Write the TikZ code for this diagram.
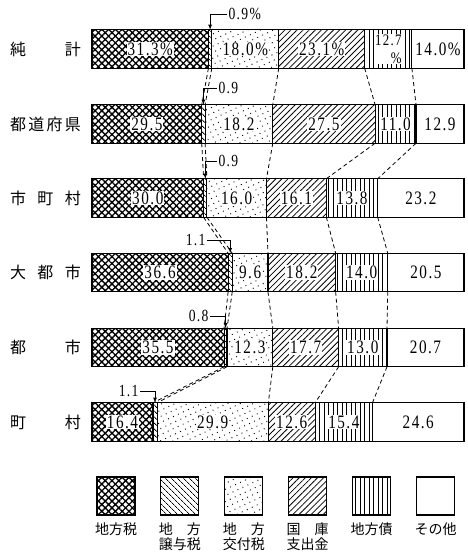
\documentclass[tikz,border=0pt]{standalone}
\usepackage{fontspec}
\newfontfamily\jfont{Noto Sans CJK JP}
\newfontfamily\numfont[FakeStretch=0.8,LetterSpace=8]{Liberation Serif}
\usetikzlibrary{positioning,patterns.meta}

\begin{document}
\begin{tikzpicture}[x=1pt,y=1pt]
            \useasboundingbox (0,0) rectangle (467,552);
            \tikzstyle{every node}+=[inner sep=0pt, outer sep=0pt]
            \tikzstyle{seg}=[draw, line width=1.1pt, minimum width=#1*3.72pt, minimum height=38.5pt]
            \tikzstyle{chiho}=[pattern={Hatch[angle=45,distance=4.8pt,line width=1.35pt]}]
            \tikzstyle{joyo}=[pattern={Lines[angle=-45,distance=4pt,line width=0.8pt]}]
            \tikzstyle{kofu}=[pattern={Dots[distance=5.5pt,radius=0.65pt,angle=25]}]
            \tikzstyle{kokko}=[pattern={Lines[angle=45,distance=4.3pt,line width=0.8pt]}]
            \tikzstyle{chihosai}=[pattern={Lines[angle=90,distance=4.5pt,line width=0.8pt]}]
            \tikzstyle{sonota}=[fill=white]
            \tikzstyle{val}=[fill=white, inner sep=1pt, font=\numfont\fontsize{19}{15}\selectfont]
            \tikzstyle{note}=[inner sep=1.5pt, font=\numfont\fontsize{17}{17}\selectfont]
            \tikzstyle{pin}=[line width=0.8pt, -latex]
            \tikzstyle{link}=[line width=0.8pt, dash pattern=on 4pt off 3pt]
            \tikzstyle{rowname}=[font=\jfont\fontsize{16}{16}\selectfont]
            \tikzstyle{key}=[draw, line width=1.1pt, minimum size=38pt]
            \tikzstyle{keytext}=[align=center, font=\jfont\fontsize{14}{15}\selectfont]
            % row names
            \node[rowname] (name1) at (45.5,503) {\makebox[71pt][s]{純\hfill 計}};
            \node[rowname] (name2) at (45.5,428) {\makebox[71pt][s]{都\hfill 道\hfill 府\hfill 県}};
            \node[rowname] (name3) at (45.5,354) {\makebox[71pt][s]{市\hfill 町\hfill 村}};
            \node[rowname] (name4) at (45.5,279.5) {\makebox[71pt][s]{大\hfill 都\hfill 市}};
            \node[rowname] (name5) at (45.5,204.5) {\makebox[71pt][s]{都\hfill 市}};
            \node[rowname] (name6) at (45.5,130) {\makebox[71pt][s]{町\hfill 村}};
            % bar 1
            \node[seg=31.3, chiho, anchor=west] (r1a) at (92,503) {};
            \node[seg=0.9, joyo, right=0pt of r1a] (r1b) {};
            \node[seg=18.0, kofu, right=0pt of r1b] (r1c) {};
            \node[seg=23.1, kokko, right=0pt of r1c] (r1d) {};
            \node[seg=12.7, chihosai, right=0pt of r1d] (r1e) {};
            \node[seg=14.0, sonota, right=0pt of r1e] (r1f) {};
            \node[val] (v1a) at (r1a) {31.3\%};
            \node[val] (v1c) at (r1c) {18.0\%};
            \node[val] (v1d) at (r1d) {23.1\%};
            \node[val, align=right, font=\numfont\fontsize{16}{18}\selectfont] (v1e) at (r1e) {12.7\\\%};
            \node[val] (v1f) at (r1f) {14.0\%};
            % bar 2
            \node[seg=29.5, chiho, anchor=west] (r2a) at (92,428) {};
            \node[seg=0.9, joyo, right=0pt of r2a] (r2b) {};
            \node[seg=18.2, kofu, right=0pt of r2b] (r2c) {};
            \node[seg=27.5, kokko, right=0pt of r2c] (r2d) {};
            \node[seg=11.0, chihosai, right=0pt of r2d] (r2e) {};
            \node[seg=12.9, sonota, right=0pt of r2e] (r2f) {};
            \node[val] (v2a) at (r2a) {29.5};
            \node[val] (v2c) at (r2c) {18.2};
            \node[val] (v2d) at (r2d) {27.5};
            \node[val] (v2e) at (r2e) {11.0};
            \node[val] (v2f) at (r2f) {12.9};
            % bar 3
            \node[seg=30.0, chiho, anchor=west] (r3a) at (92,354) {};
            \node[seg=0.9, joyo, right=0pt of r3a] (r3b) {};
            \node[seg=16.0, kofu, right=0pt of r3b] (r3c) {};
            \node[seg=16.1, kokko, right=0pt of r3c] (r3d) {};
            \node[seg=13.8, chihosai, right=0pt of r3d] (r3e) {};
            \node[seg=23.2, sonota, right=0pt of r3e] (r3f) {};
            \node[val] (v3a) at (r3a) {30.0};
            \node[val] (v3c) at (r3c) {16.0};
            \node[val] (v3d) at (r3d) {16.1};
            \node[val] (v3e) at (r3e) {13.8};
            \node[val] (v3f) at (r3f) {23.2};
            % bar 4
            \node[seg=36.6, chiho, anchor=west] (r4a) at (92,279.5) {};
            \node[seg=1.1, joyo, right=0pt of r4a] (r4b) {};
            \node[seg=9.6, kofu, right=0pt of r4b] (r4c) {};
            \node[seg=18.2, kokko, right=0pt of r4c] (r4d) {};
            \node[seg=14.0, chihosai, right=0pt of r4d] (r4e) {};
            \node[seg=20.5, sonota, right=0pt of r4e] (r4f) {};
            \node[val] (v4a) at (r4a) {36.6};
            \node[val] (v4c) at (r4c) {9.6};
            \node[val] (v4d) at (r4d) {18.2};
            \node[val] (v4e) at (r4e) {14.0};
            \node[val] (v4f) at (r4f) {20.5};
            % bar 5
            \node[seg=35.5, chiho, anchor=west] (r5a) at (92,204.5) {};
            \node[seg=0.8, joyo, right=0pt of r5a] (r5b) {};
            \node[seg=12.3, kofu, right=0pt of r5b] (r5c) {};
            \node[seg=17.7, kokko, right=0pt of r5c] (r5d) {};
            \node[seg=13.0, chihosai, right=0pt of r5d] (r5e) {};
            \node[seg=20.7, sonota, right=0pt of r5e] (r5f) {};
            \node[val] (v5a) at (r5a) {35.5};
            \node[val] (v5c) at (r5c) {12.3};
            \node[val] (v5d) at (r5d) {17.7};
            \node[val] (v5e) at (r5e) {13.0};
            \node[val] (v5f) at (r5f) {20.7};
            % bar 6
            \node[seg=16.4, chiho, anchor=west] (r6a) at (92,130) {};
            \node[seg=1.1, joyo, right=0pt of r6a] (r6b) {};
            \node[seg=29.9, kofu, right=0pt of r6b] (r6c) {};
            \node[seg=12.6, kokko, right=0pt of r6c] (r6d) {};
            \node[seg=15.4, chihosai, right=0pt of r6d] (r6e) {};
            \node[seg=24.6, sonota, right=0pt of r6e] (r6f) {};
            \node[val] (v6a) at (r6a) {16.4};
            \node[val] (v6c) at (r6c) {29.9};
            \node[val] (v6d) at (r6d) {12.6};
            \node[val] (v6e) at (r6e) {15.4};
            \node[val] (v6f) at (r6f) {24.6};
            % dashed links between bars
            \draw[link] (r1a.south east) -- (r2a.north east) (r1b.south east) -- (r2b.north east) (r1c.south east) -- (r2c.north east) (r1d.south east) -- (r2d.north east) (r1e.south east) -- (r2e.north east);
            \draw[link] (r2a.south east) -- (r3a.north east) (r2b.south east) -- (r3b.north east) (r2c.south east) -- (r3c.north east) (r2d.south east) -- (r3d.north east) (r2e.south east) -- (r3e.north east);
            \draw[link] (r3a.south east) -- (r4a.north east) (r3b.south east) -- (r4b.north east) (r3c.south east) -- (r4c.north east) (r3d.south east) -- (r4d.north east) (r3e.south east) -- (r4e.north east);
            \draw[link] (r4a.south east) -- (r5a.north east) (r4b.south east) -- (r5b.north east) (r4c.south east) -- (r5c.north east) (r4d.south east) -- (r5d.north east) (r4e.south east) -- (r5e.north east);
            \draw[link] (r5a.south east) -- (r6a.north east) (r5b.south east) -- (r6b.north east) (r5c.south east) -- (r6c.north east) (r5d.south east) -- (r6d.north east) (r5e.south east) -- (r6e.north east);
            % small shares
            \node[note, anchor=west] (n1) at (227,538) {0.9\%};
            \draw[pin] (n1.west) -| (r1b.north);
            \node[note, anchor=west] (n2) at (217,464) {0.9};
            \draw[pin] (n2.west) -| (r2b.north);
            \node[note, anchor=west] (n3) at (217,391) {0.9};
            \draw[pin] (n3.west) -| (r3b.north);
            \node[note, anchor=east] (n4) at (207,312) {1.1};
            \draw[pin] (n4.east) -| (r4b.north);
            \node[note, anchor=east] (n5) at (210,236) {0.8};
            \draw[pin] (n5.east) -| (r5b.north);
            \node[note, anchor=east] (n6) at (140,161) {1.1};
            \draw[pin] (n6.east) -| (r6b.north);
            % legend
            \node[key, chiho] (k1) at (116,56) {};
            \node[key, joyo] (k2) at (179.9,56) {};
            \node[key, kofu] (k3) at (243.8,56) {};
            \node[key, kokko] (k4) at (307.7,56) {};
            \node[key, chihosai] (k5) at (371.6,56) {};
            \node[key, sonota] (k6) at (435.5,56) {};
            \node[keytext, below=8pt of k1] (c1) {地方税};
            \node[keytext, below=8pt of k2] (c2) {\makebox[3em][s]{地\hfill 方}\\譲与税};
            \node[keytext, below=8pt of k3] (c3) {\makebox[3em][s]{地\hfill 方}\\交付税};
            \node[keytext, below=8pt of k4] (c4) {\makebox[3em][s]{国\hfill 庫}\\支出金};
            \node[keytext, below=8pt of k5] (c5) {地方債};
            \node[keytext, below=8pt of k6] (c6) {その他};
        \end{tikzpicture}
\end{document}
